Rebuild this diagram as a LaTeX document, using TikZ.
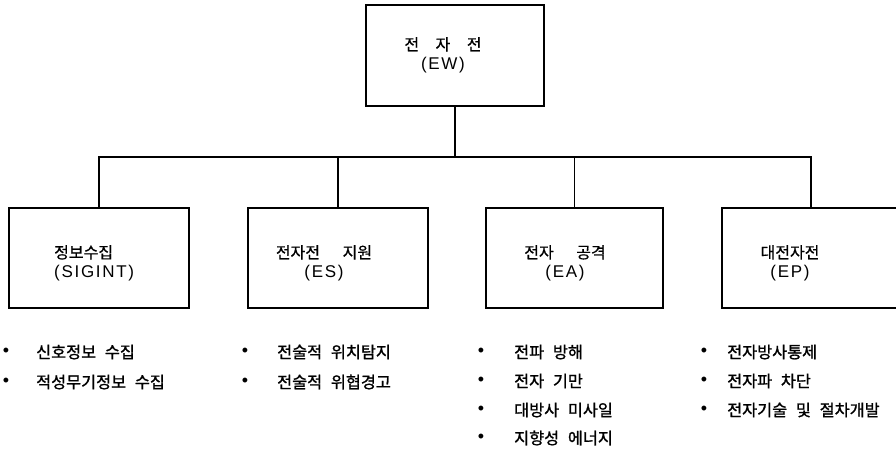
\documentclass[tikz,border=0pt]{standalone}
\usepackage{fontspec}
\setmainfont{Liberation Sans}
\newfontfamily\krbox[WordSpace=6.3,FakeBold=0.6]{Noto Sans CJK KR}
\newfontfamily\krtop[WordSpace=4.6,FakeBold=0.55]{Noto Sans CJK KR}
\newfontfamily\kritem[WordSpace=2.4,FakeBold=1.2]{Noto Sans CJK KR}
\newfontfamily\lat[LetterSpace=10]{Liberation Sans}
\begin{document}
\begin{tikzpicture}[x=1pt,y=-1pt,
  box/.style={draw,line width=1.1pt,minimum width=#1,minimum height=100pt,inner sep=0pt},
  box/.default=180pt,
  lbl/.style={align=center,inner sep=0pt,font=\fontsize{16}{19}\selectfont},
  itm/.style={anchor=west,inner sep=0pt,font=\kritem\fontsize{16.3}{18}\selectfont},
  bul/.style={inner sep=0pt,font=\fontsize{18}{18}\selectfont},
  conn/.style={line width=1.1pt}]
\useasboundingbox (0,0) rectangle (896,457);
% boxes
\node[box=178pt,minimum height=101pt] (top) at (455,55.5) {};
\node[box=180pt] (b1) at (99,258) {};
\node[box=180pt] (b2) at (338,258) {};
\node[box=177pt] (b3) at (574.5,258) {};
\node[box=178pt] (b4) at (811,258) {};
% labels
\node[lbl] (t0) at (443,55) {{\krtop 전 자 전}\\{\lat\fontsize{17}{19}\selectfont (EW)}};
\node[lbl,align=left,anchor=west] (t1) at (54,263) {{\krbox 정보수집}\\{\lat\fontsize{17}{19}\selectfont (SIGINT)}};
\node[lbl] (t2) at (324,263) {{\krbox 전자전 지원}\\{\lat\fontsize{17}{19}\selectfont (ES)}};
\node[lbl] (t3) at (565,263) {{\krbox 전자 공격}\\{\lat\fontsize{17}{19}\selectfont (EA)}};
\node[lbl] (t4) at (790,263) {{\krbox 대전자전}\\{\lat\fontsize{17}{19}\selectfont (EP)}};
% connectors
\coordinate (bus) at (0,157);
\draw[conn] (top.south) -- (top.south |- bus);
\draw[conn] (b1.north) -- (b1.north |- bus) -- (b4.north |- bus) -- (b4.north);
\draw[conn] (b2.north) -- (b2.north |- bus);
\draw[conn] (b3.north) -- (b3.north |- bus);
% items column 1
\node[bul] (p11) at (6,352) {•};
\node[itm] (i11) at (36,352) {신호정보 수집};
\node[bul] (p12) at (6,382) {•};
\node[itm] (i12) at (36,382) {적성무기정보 수집};
% column 2
\node[bul] (p21) at (245,352) {•};
\node[itm] (i21) at (277,352) {전술적 위치탐지};
\node[bul] (p22) at (245,382) {•};
\node[itm] (i22) at (277,382) {전술적 위협경고};
% column 3
\node[bul] (p31) at (481,352) {•};
\node[itm] (i31) at (514,352) {전파 방해};
\node[bul] (p32) at (481,381) {•};
\node[itm] (i32) at (514,381) {전자 기만};
\node[bul] (p33) at (481,410) {•};
\node[itm] (i33) at (514,410) {대방사 미사일};
\node[bul] (p34) at (481,438) {•};
\node[itm] (i34) at (514,438) {지향성 에너지};
% column 4
\node[bul] (p41) at (704,352) {•};
\node[itm] (i41) at (727,352) {전자방사통제};
\node[bul] (p42) at (704,381) {•};
\node[itm] (i42) at (727,381) {전자파 차단};
\node[bul] (p43) at (704,410) {•};
\node[itm] (i43) at (727,410) {전자기술 및 절차개발};
\end{tikzpicture}
\end{document}
